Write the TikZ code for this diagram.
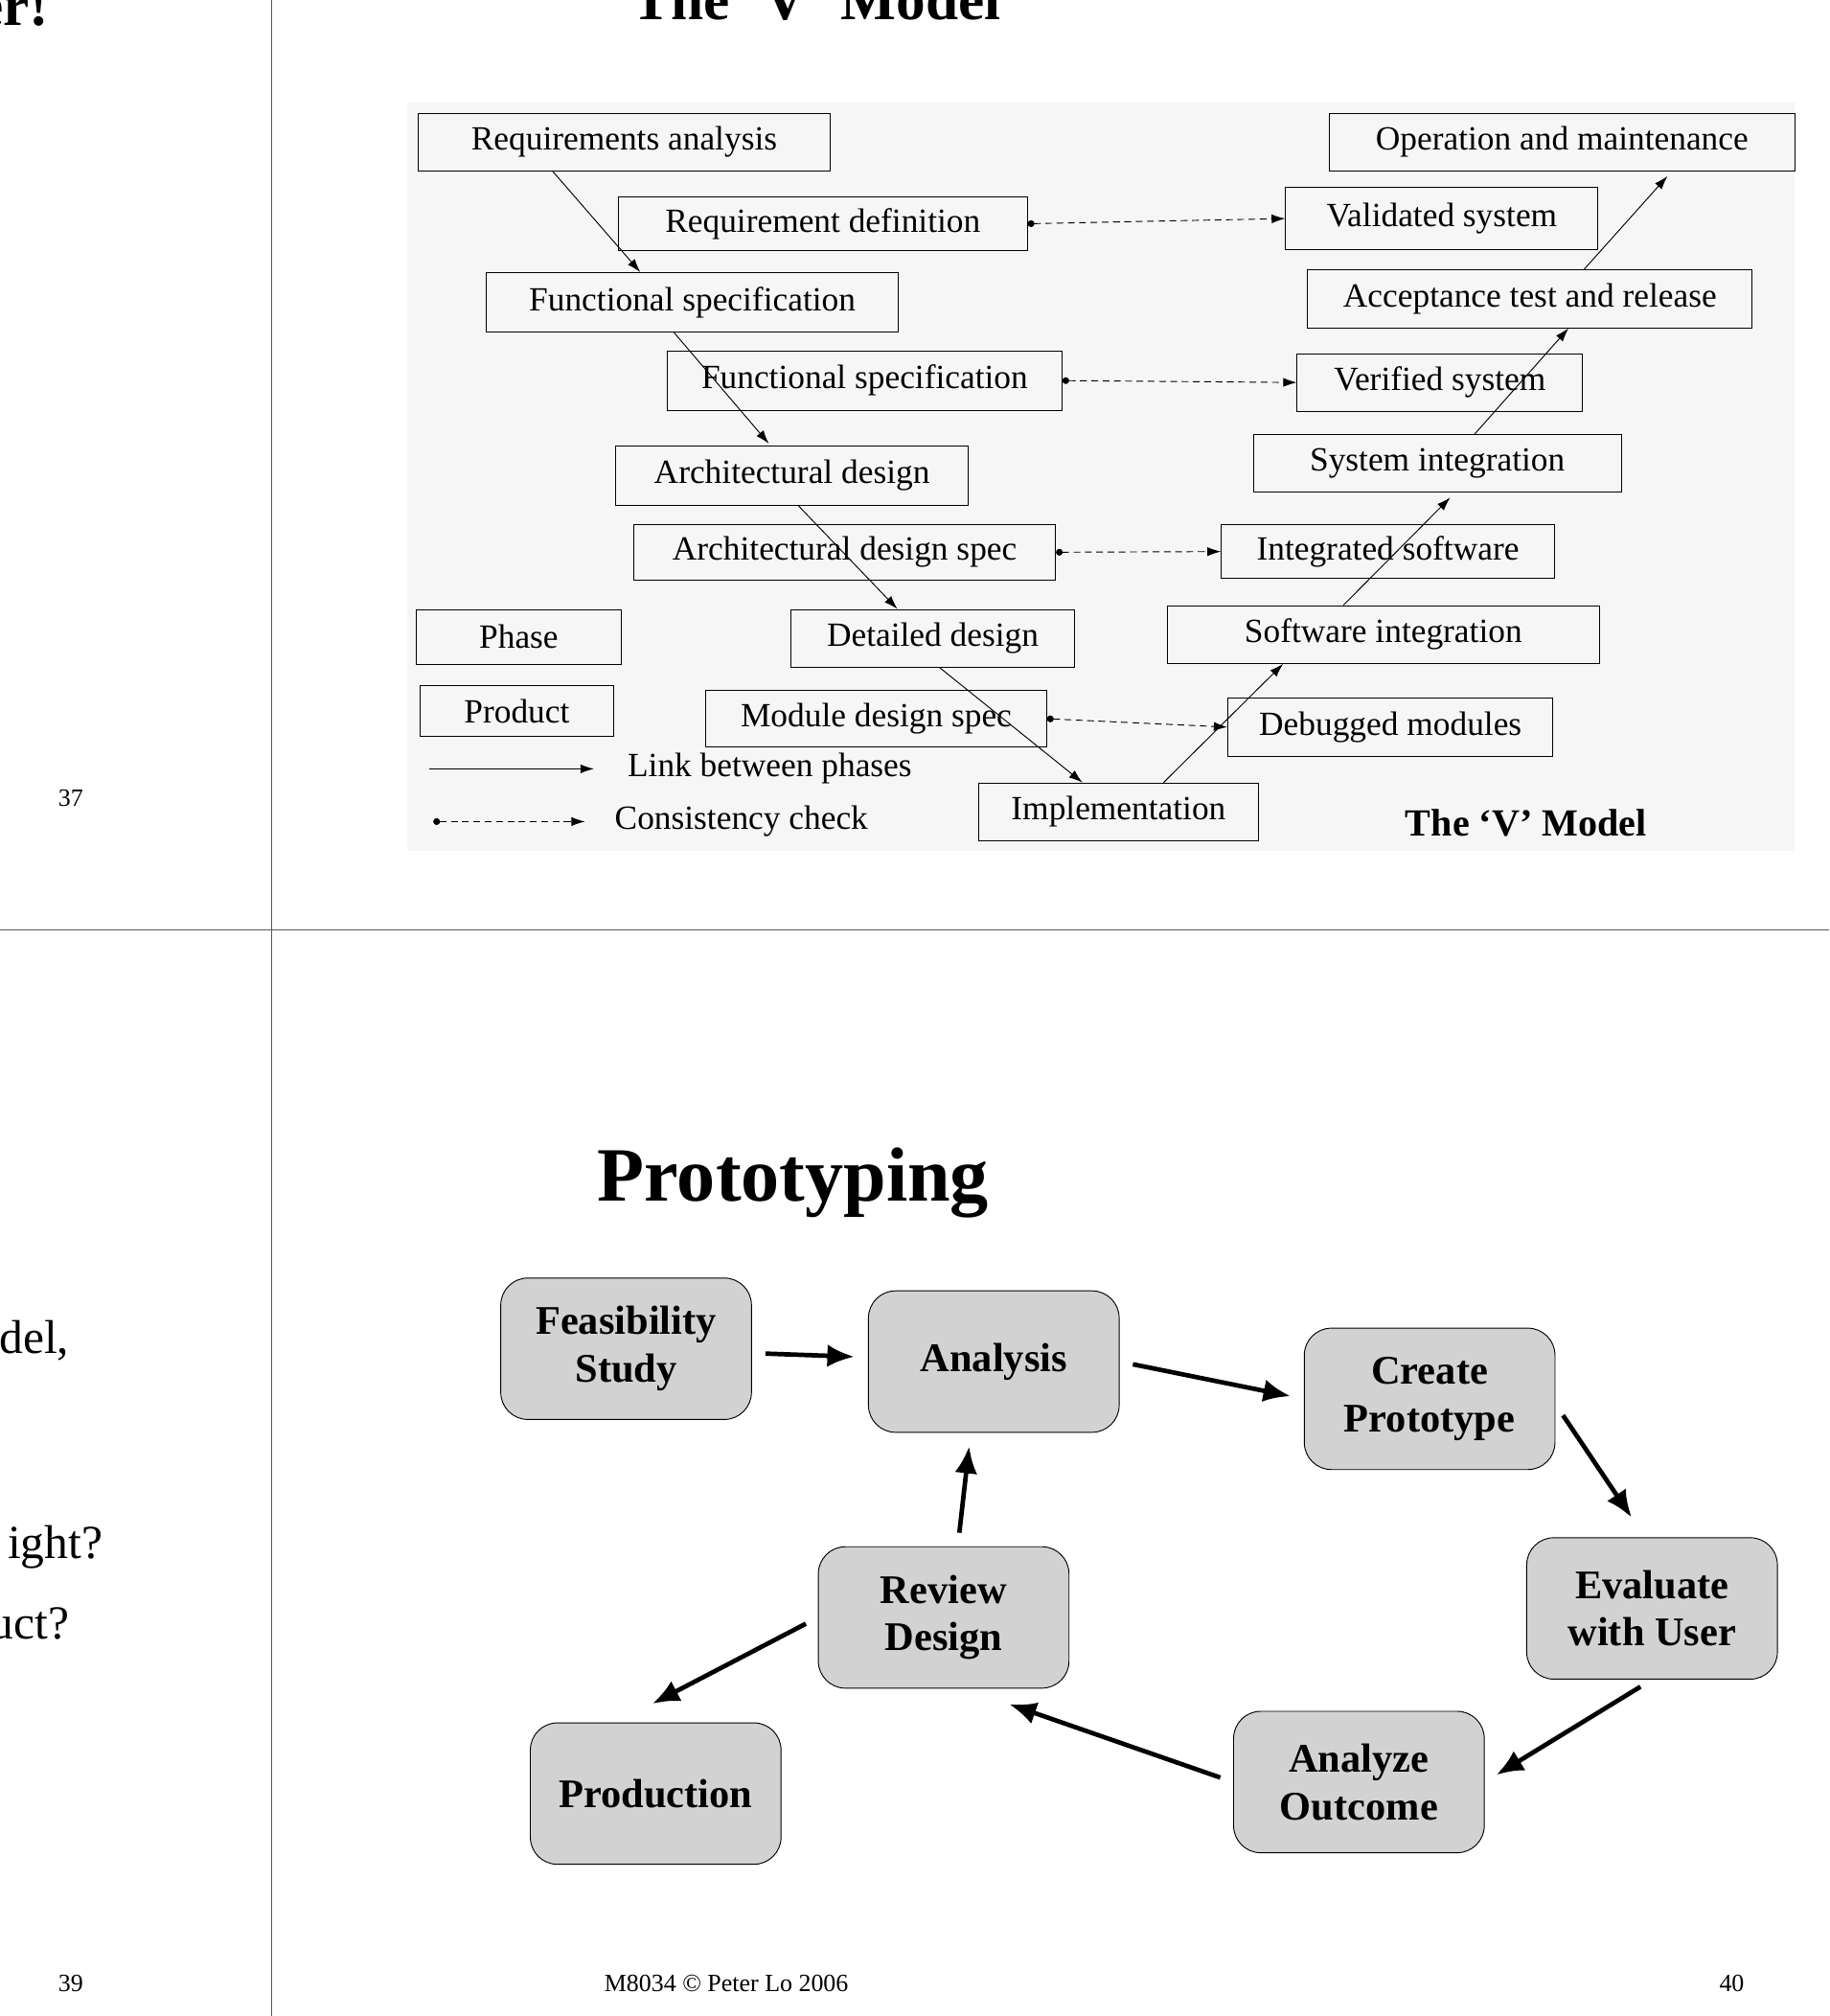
\documentclass[tikz,border=0pt]{standalone}
\usepackage{fontspec}
\setmainfont{Liberation Serif}
\usetikzlibrary{arrows.meta, positioning}

\begin{document}
\begin{tikzpicture}[x=0.02cm, y=-0.02cm,
    vbox/.style={draw, rectangle, inner sep=0pt, font=\fontsize{15}{15}\selectfont},
    pbox/.style={draw, rounded corners=12, fill=gray!35, minimum width=195*0.02cm, minimum height=110*0.02cm, align=center, font=\fontsize{18}{21}\selectfont\bfseries},
    link/.style={-{Latex[length=6pt,width=4pt]}, thin},
    check/.style={densely dashed, thin, {Circle[length=3pt]}-{Latex[length=6pt,width=4pt]}},
    flow/.style={-{Latex[length=12pt,width=10pt]}, line width=2pt, shorten <=6pt, shorten >=6pt}]

    \useasboundingbox (0,0) rectangle (1423,1568);

	% Page frame
    \draw[gray!70!black] (211,0) -- (211,1568);
    \draw[gray!70!black] (0,723) -- (1423,723);
    \node[font=\fontsize{26}{26}\selectfont\bfseries] (oldt) at (10,5) {er!};
    \node[font=\fontsize{26}{26}\selectfont\bfseries] (vtitle) at (635,0) {The ‘V’ Model};
    \node[font=\fontsize{11}{11}\selectfont] (p37) at (55,621) {37};
    \node[font=\fontsize{11}{11}\selectfont] (p39) at (55,1543) {39};
    \node[font=\fontsize{11}{11}\selectfont] (p40) at (1347,1543) {40};
    \node[font=\fontsize{11}{11}\selectfont] (foot) at (565,1543) {M8034 © Peter Lo 2006};
    \node[font=\fontsize{21}{21}\selectfont, anchor=east] (l1) at (60,1043) {del,};
    \node[font=\fontsize{21}{21}\selectfont, anchor=east] (l2) at (86,1203) {ight?};
    \node[font=\fontsize{21}{21}\selectfont, anchor=east] (l3) at (60,1263) {uct?};

	% V model
    \fill[gray!7] (317,80) rectangle (1396,662);
    \node[vbox, minimum width=321*0.02cm, minimum height=45*0.02cm] (ra) at (485.5,110.5) {Requirements analysis};
    \node[vbox, minimum width=318*0.02cm, minimum height=42*0.02cm] (rd) at (640,174) {Requirement definition};
    \node[vbox, minimum width=321*0.02cm, minimum height=46*0.02cm] (fs) at (538.5,235) {Functional specification};
    \node[vbox, minimum width=307*0.02cm, minimum height=46*0.02cm] (fsp) at (672.5,296) {Functional specification};
    \node[vbox, minimum width=274*0.02cm, minimum height=46*0.02cm] (ad) at (616,370) {Architectural design};
    \node[vbox, minimum width=328*0.02cm, minimum height=43*0.02cm] (ads) at (657,429.5) {Architectural design spec};
    \node[vbox, minimum width=221*0.02cm, minimum height=45*0.02cm] (dd) at (725.5,496.5) {Detailed design};
    \node[vbox, minimum width=265*0.02cm, minimum height=44*0.02cm] (mds) at (681.5,559) {Module design spec};
    \node[vbox, minimum width=218*0.02cm, minimum height=45*0.02cm] (impl) at (870,631.5) {Implementation};
    \node[vbox, minimum width=159*0.02cm, minimum height=43*0.02cm] (phase) at (403.5,495.5) {Phase};
    \node[vbox, minimum width=150*0.02cm, minimum height=40*0.02cm] (prod) at (402,553) {Product};
    \node[vbox, minimum width=362*0.02cm, minimum height=45*0.02cm] (om) at (1215,110.5) {Operation and maintenance};
    \node[vbox, minimum width=243*0.02cm, minimum height=48*0.02cm] (vs) at (1121.5,170) {Validated system};
    \node[vbox, minimum width=346*0.02cm, minimum height=45*0.02cm] (atr) at (1190,232.5) {Acceptance test and release};
    \node[vbox, minimum width=222*0.02cm, minimum height=45*0.02cm] (vsys) at (1120,297.5) {Verified system};
    \node[vbox, minimum width=286*0.02cm, minimum height=45*0.02cm] (si) at (1118,360.5) {System integration};
    \node[vbox, minimum width=259*0.02cm, minimum height=42*0.02cm] (is) at (1079.5,429) {Integrated software};
    \node[vbox, minimum width=336*0.02cm, minimum height=45*0.02cm] (swi) at (1076,493.5) {Software integration};
    \node[vbox, minimum width=253*0.02cm, minimum height=45*0.02cm] (dm) at (1081.5,565.5) {Debugged modules};

    % Links between phases
    \draw[link] (ra.south -| 430,0) -- (fs.north -| 498,0);
    \draw[link] (fs.south -| 524,0) -- (598,345);
    \draw[link] (ad.south -| 621,0) -- (dd.north -| 698,0);
    \draw[link] (dd.south -| 731,0) -- (impl.north -| 842,0);
    \draw[link] (impl.north -| 905,0) -- (swi.south -| 998,0);
    \draw[link] (swi.north -| 1045,0) -- (1128,387);
    \draw[link] (si.north -| 1147,0) -- (atr.south -| 1220,0);
    \draw[link] (atr.north -| 1232,0) -- (1297,137);

    % Consistency checks
    \draw[check] (rd.east) -- (vs.west);
    \draw[check] (fsp.east) -- (vsys.west);
    \draw[check] (ads.east) -- (is.west);
    \draw[check] (mds.east) -- (dm.west);

    % Legend
    \coordinate (la) at (334,598);
    \coordinate (lb) at (462,598);
    \coordinate (ca) at (337,639);
    \coordinate (cb) at (455,639);
    \draw[link] (la) -- (lb);
    \draw[check] (ca) -- (cb);
    \node[anchor=west, font=\fontsize{15}{15}\selectfont] (llink) at (482,598) {Link between phases};
    \node[anchor=west, font=\fontsize{15}{15}\selectfont] (lcheck) at (472,639) {Consistency check};
    \node[font=\fontsize{17}{17}\selectfont\bfseries] (vcap) at (1187,640) {The ‘V’ Model};

	% Prototyping
    \node[font=\fontsize{34}{34}\selectfont\bfseries] (ptitle) at (617,920) {Prototyping};
    \node[pbox] (feas) at (487,1049) {Feasibility\\Study};
    \node[pbox] (anal) at (773,1059) {Analysis};
    \node[pbox] (cp) at (1112,1088) {Create\\Prototype};
    \node[pbox] (eval) at (1285,1251) {Evaluate\\with User};
    \node[pbox] (ao) at (1057,1386) {Analyze\\Outcome};
    \node[pbox] (rev) at (734,1258) {Review\\Design};
    \node[pbox] (pro) at (510,1395) {Production};

    \draw[flow] (feas) -- (anal);
    \draw[flow] (anal.east) -- (cp.west);
    \draw[flow] (cp.east |- 0,1092) -- (1275,1189);
    \draw[flow] (eval.south) -- (ao.east);
    \draw[flow] (ao.west) -- (775,1322);
    \draw[flow] (rev.north -| 745,0) -- (anal.south -| 755,0);
    \draw[flow] (rev.west) -- (498,1330);

\end{tikzpicture}
\end{document}
